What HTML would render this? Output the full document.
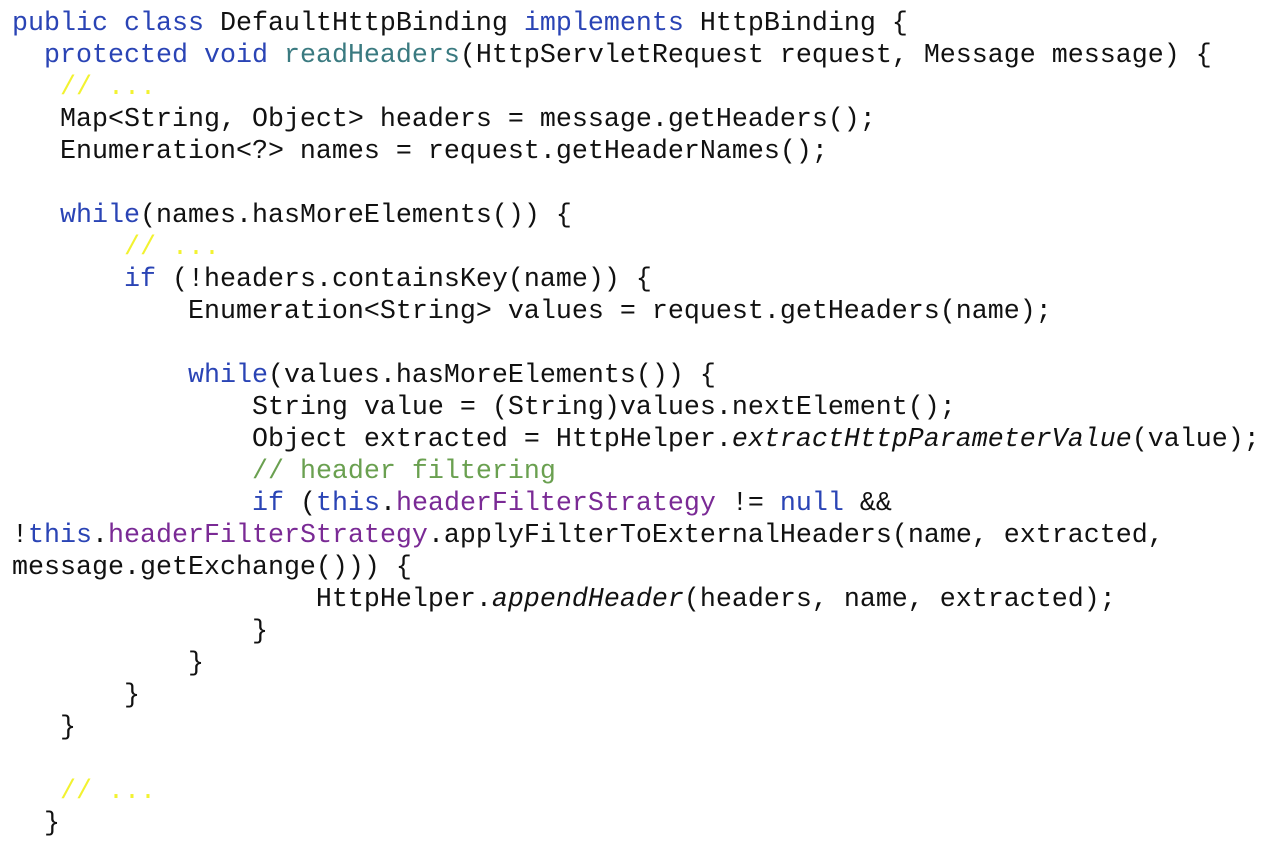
<!DOCTYPE html>
<html><head><meta charset="utf-8"><style>
html,body{margin:0;padding:0;background:#fff;width:1270px;height:842px;overflow:hidden}
pre{position:absolute;left:12px;top:8px;margin:0;font-family:"Liberation Mono",monospace;font-size:26.67px;line-height:32px;color:#111}
.k{color:#2a44b5}.m{color:#3a7a80}.y{color:#f2f230}.g{color:#6aa050}.p{color:#7a2a95}
</style></head><body><pre><span class="k">public class</span> DefaultHttpBinding <span class="k">implements</span> HttpBinding {
  <span class="k">protected void</span> <span class="m">readHeaders</span>(HttpServletRequest request, Message message) {
   <span class="y">// ...</span>
   Map&lt;String, Object&gt; headers = message.getHeaders();
   Enumeration&lt;?&gt; names = request.getHeaderNames();

   <span class="k">while</span>(names.hasMoreElements()) {
       <span class="y">// ...</span>
       <span class="k">if</span> (!headers.containsKey(name)) {
           Enumeration&lt;String&gt; values = request.getHeaders(name);

           <span class="k">while</span>(values.hasMoreElements()) {
               String value = (String)values.nextElement();
               Object extracted = HttpHelper.<i>extractHttpParameterValue</i>(value);
               <span class="g">// header filtering</span>
               <span class="k">if</span> (<span class="k">this</span>.<span class="p">headerFilterStrategy</span> != <span class="k">null</span> &amp;&amp;
!<span class="k">this</span>.<span class="p">headerFilterStrategy</span>.applyFilterToExternalHeaders(name, extracted,
message.getExchange())) {
                   HttpHelper.<i>appendHeader</i>(headers, name, extracted);
               }
           }
       }
   }

   <span class="y">// ...</span>
  }</pre></body></html>
